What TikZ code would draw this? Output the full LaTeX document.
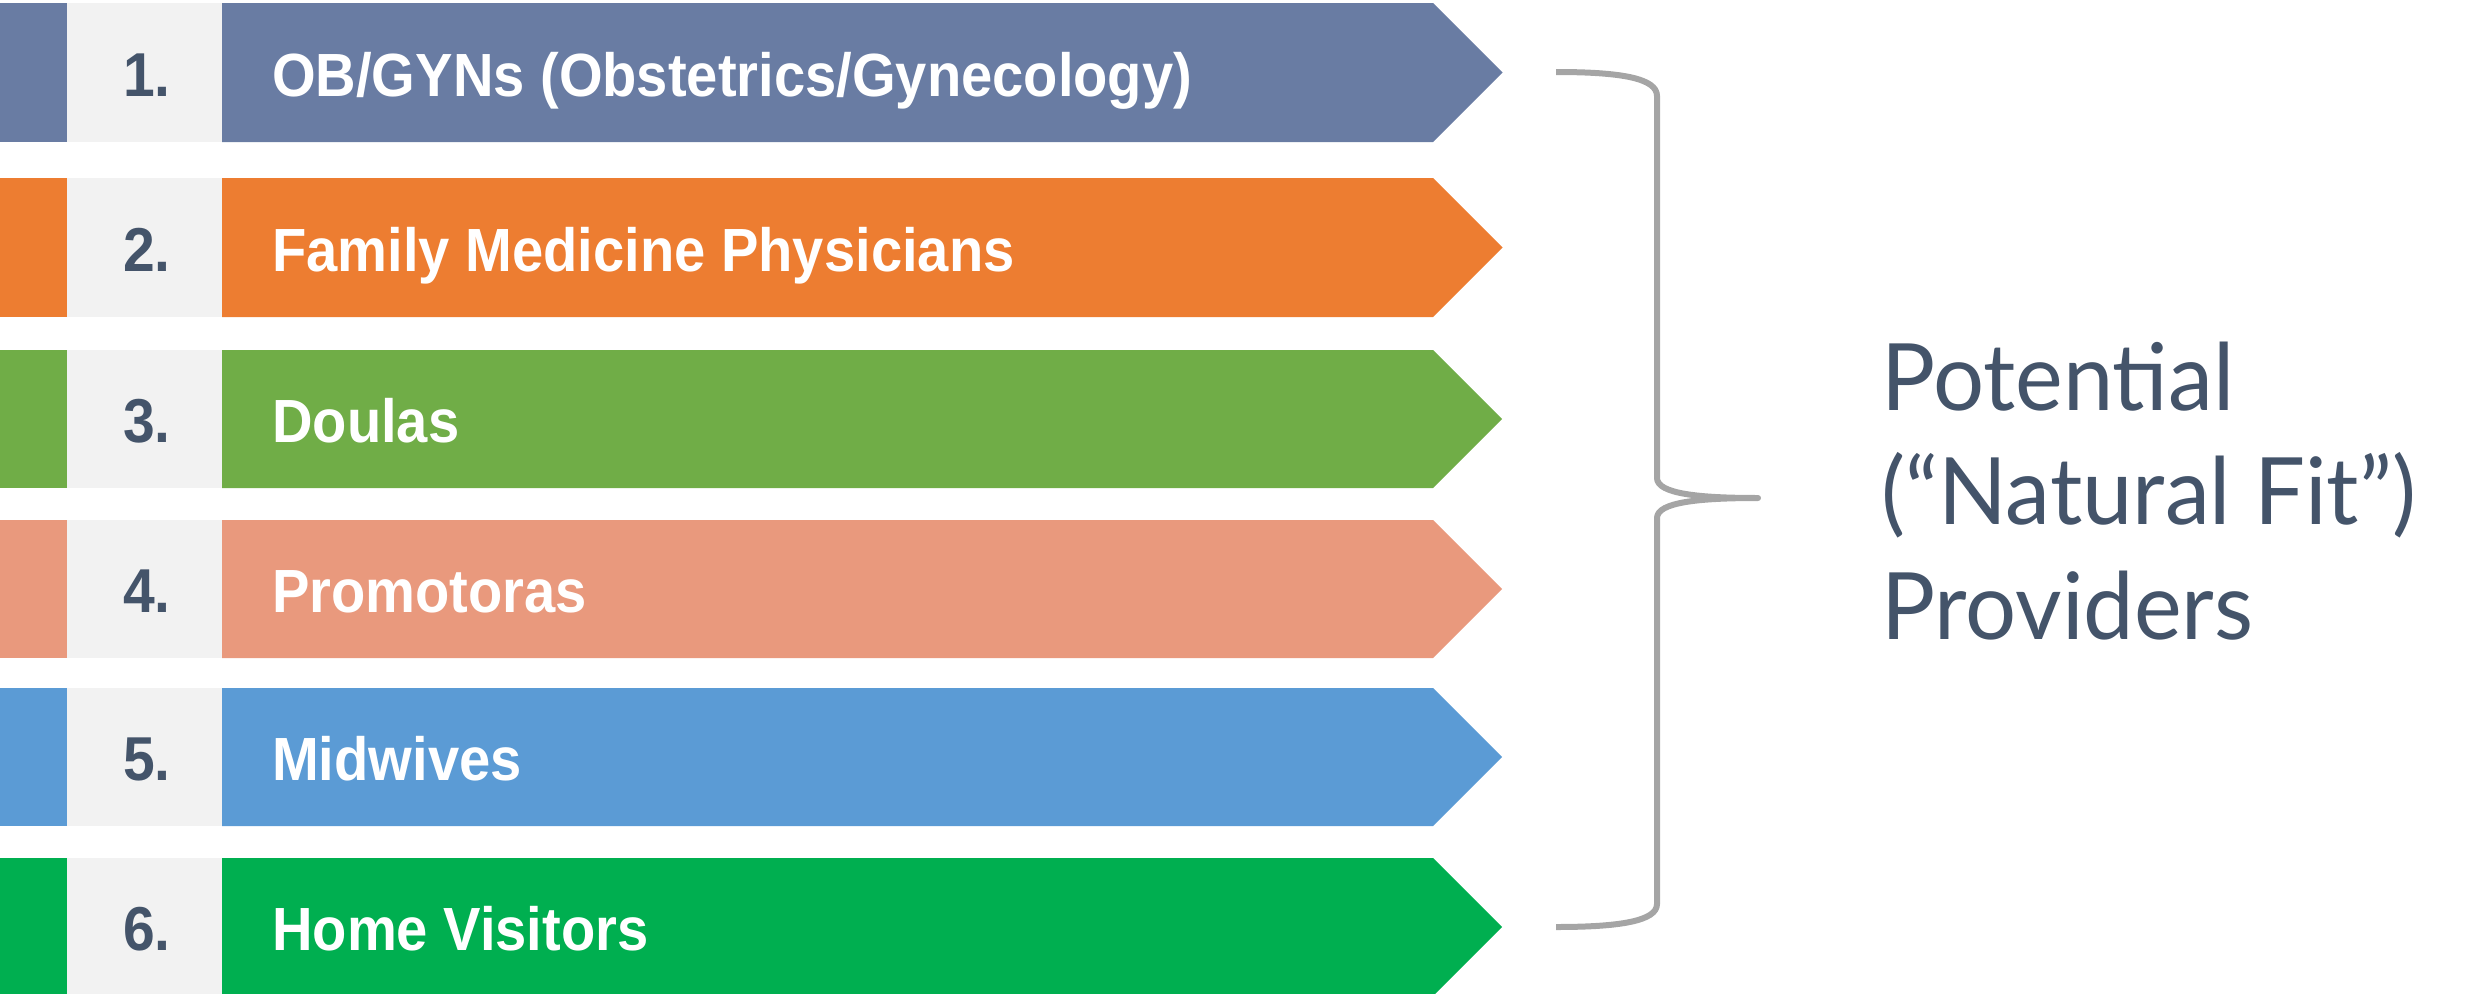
\documentclass[tikz,border=0pt]{standalone}
\usepackage{fontspec}
\setmainfont{Liberation Sans}
\newfontfamily\labfont{Liberation Sans}[FakeStretch=0.92]
\newfontfamily\rfont{Lato}[FakeStretch=0.97]
\definecolor{cA}{HTML}{697CA3}
\definecolor{cB}{HTML}{ED7D31}
\definecolor{cC}{HTML}{70AD47}
\definecolor{cD}{HTML}{E9997D}
\definecolor{cE}{HTML}{5B9BD5}
\definecolor{cF}{HTML}{00AF50}
\definecolor{boxgray}{HTML}{F2F2F2}
\definecolor{darktxt}{HTML}{44546A}
\definecolor{bracegray}{HTML}{A5A5A5}
\tikzset{
  numtxt/.style={inner sep=0pt, anchor=base east, text=darktxt, font=\labfont\bfseries\fontsize{62}{70}\selectfont},
  labtxt/.style={inner sep=0pt, anchor=base west, text=white, font=\labfont\bfseries\fontsize{61}{70}\selectfont},
  sidetxt/.style={inner sep=0pt, anchor=base west, text=darktxt, font=\rfont\fontsize{93}{114}\selectfont},
  bracestyle/.style={draw=bracegray, line width=6pt, line cap=butt, line join=round}
}
\newcommand{\provrow}[5]{%
  % #1 colour, #2 top, #3 bottom, #4 number, #5 label
  \fill[#1] (0,#2) rectangle (67,#3);
  \fill[boxgray] (67,#2) rectangle (222,#3);
  \fill[#1] (222,#2) -- (1433,#2) -- ({1433+(#3-#2)/2},{(#2+#3)/2}) -- (1433,#3) -- (222,#3) -- cycle;
  \node[numtxt] (num#4) at (171,{(#2+#3)/2+23.5}) {#4.};
  \node[labtxt] (lab#4) at (272,{(#2+#3)/2+23.5}) {#5};
  \coordinate (tip#4) at ({1433+(#3-#2)/2},{(#2+#3)/2});
}
\begin{document}
\begin{tikzpicture}[x=1pt,y=-1pt]
\useasboundingbox (0,0) rectangle (2475,993);
\provrow{cA}{3}{142}{1}{OB/GYNs (Obstetrics/Gynecology)}
\provrow{cB}{178}{317}{2}{Family Medicine Physicians}
\provrow{cC}{350}{488}{3}{Doulas}
\provrow{cD}{520}{658}{4}{Promotoras}
\provrow{cE}{688}{826}{5}{Midwives}
\provrow{cF}{858}{996}{6}{Home Visitors}

\coordinate (btop) at (1556,72);
\coordinate (bbot) at (1556,927);
\coordinate (bmid) at (1758,498);
\draw[bracestyle] (btop) .. controls (1620,72) and (1657,78) .. (1657,96)
  -- (1657,478) .. controls (1657,494) and (1700,498) .. (bmid)
  .. controls (1700,498) and (1657,502) .. (1657,518)
  -- (1657,904) .. controls (1657,921) and (1620,927) .. (bbot);

\node[sidetxt] (t1) at (1881,410) {Potential};
\node[sidetxt] (t2) at (1881,524) {(“Natural Fit”)};
\node[sidetxt] (t3) at (1881,639) {Providers};
\end{tikzpicture}
\end{document}
